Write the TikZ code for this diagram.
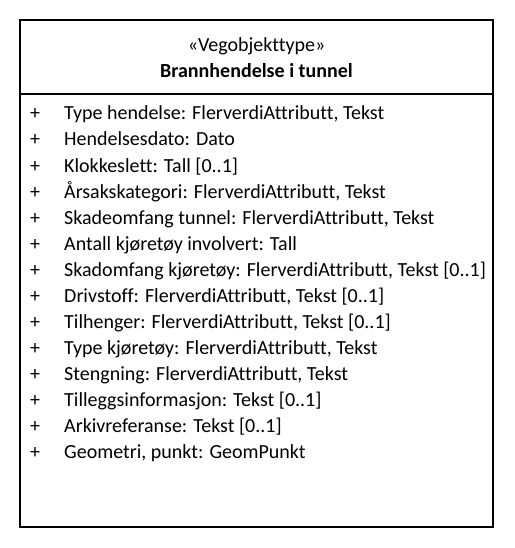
\documentclass[tikz,border=0pt]{standalone}
\usepackage{fontspec}
\setmainfont[Ligatures={NoCommon}]{Carlito}
\usetikzlibrary{positioning}

\begin{document}
\begin{tikzpicture}[x=1pt, y=-1pt,
      attr/.style={anchor=base west, inner sep=0pt, font=\fontsize{20}{22}\selectfont},
      plus/.style={anchor=base, inner sep=0pt, font=\fontsize{20}{22}\selectfont},
      title/.style={anchor=base, inner sep=0pt, font=\fontsize{20}{22}\selectfont}
    ]
      \useasboundingbox (0,0) rectangle (514,548);
      \draw[line width=2pt] (20,20) rectangle (493,527);
      \draw[line width=2pt] (20,94) -- (493,94);

      \node[title] (stereo) at (256.5,52) {«Vegobjekttype»};
      \node[title, font=\fontsize{20}{22}\selectfont\bfseries] (name) at (256.5,78) {Brannhendelse i tunnel};

      \node[plus] (p1)  at (35,120) {+};
      \node[plus] (p2)  at (35,146) {+};
      \node[plus] (p3)  at (35,172) {+};
      \node[plus] (p4)  at (35,198) {+};
      \node[plus] (p5)  at (35,224) {+};
      \node[plus] (p6)  at (35,250) {+};
      \node[plus] (p7)  at (35,276) {+};
      \node[plus] (p8)  at (35,302) {+};
      \node[plus] (p9)  at (35,328) {+};
      \node[plus] (p10) at (35,354) {+};
      \node[plus] (p11) at (35,380) {+};
      \node[plus] (p12) at (35,406) {+};
      \node[plus] (p13) at (35,432) {+};
      \node[plus] (p14) at (35,458) {+};

      \node[attr] (a1)  at (64,120) {Type hendelse: FlerverdiAttributt, Tekst};
      \node[attr] (a2)  at (64,146) {Hendelsesdato: Dato};
      \node[attr] (a3)  at (64,172) {Klokkeslett: Tall [0..1]};
      \node[attr] (a4)  at (64,198) {Årsakskategori: FlerverdiAttributt, Tekst};
      \node[attr] (a5)  at (64,224) {Skadeomfang tunnel: FlerverdiAttributt, Tekst};
      \node[attr] (a6)  at (64,250) {Antall kjøretøy involvert: Tall};
      \node[attr] (a7)  at (64,276) {Skadomfang kjøretøy: FlerverdiAttributt, Tekst [0..1]};
      \node[attr] (a8)  at (64,302) {Drivstoff: FlerverdiAttributt, Tekst [0..1]};
      \node[attr] (a9)  at (64,328) {Tilhenger: FlerverdiAttributt, Tekst [0..1]};
      \node[attr] (a10) at (64,354) {Type kjøretøy: FlerverdiAttributt, Tekst};
      \node[attr] (a11) at (64,380) {Stengning: FlerverdiAttributt, Tekst};
      \node[attr] (a12) at (64,406) {Tilleggsinformasjon: Tekst [0..1]};
      \node[attr] (a13) at (64,432) {Arkivreferanse: Tekst [0..1]};
      \node[attr] (a14) at (64,458) {Geometri, punkt: GeomPunkt};
    \end{tikzpicture}
\end{document}
